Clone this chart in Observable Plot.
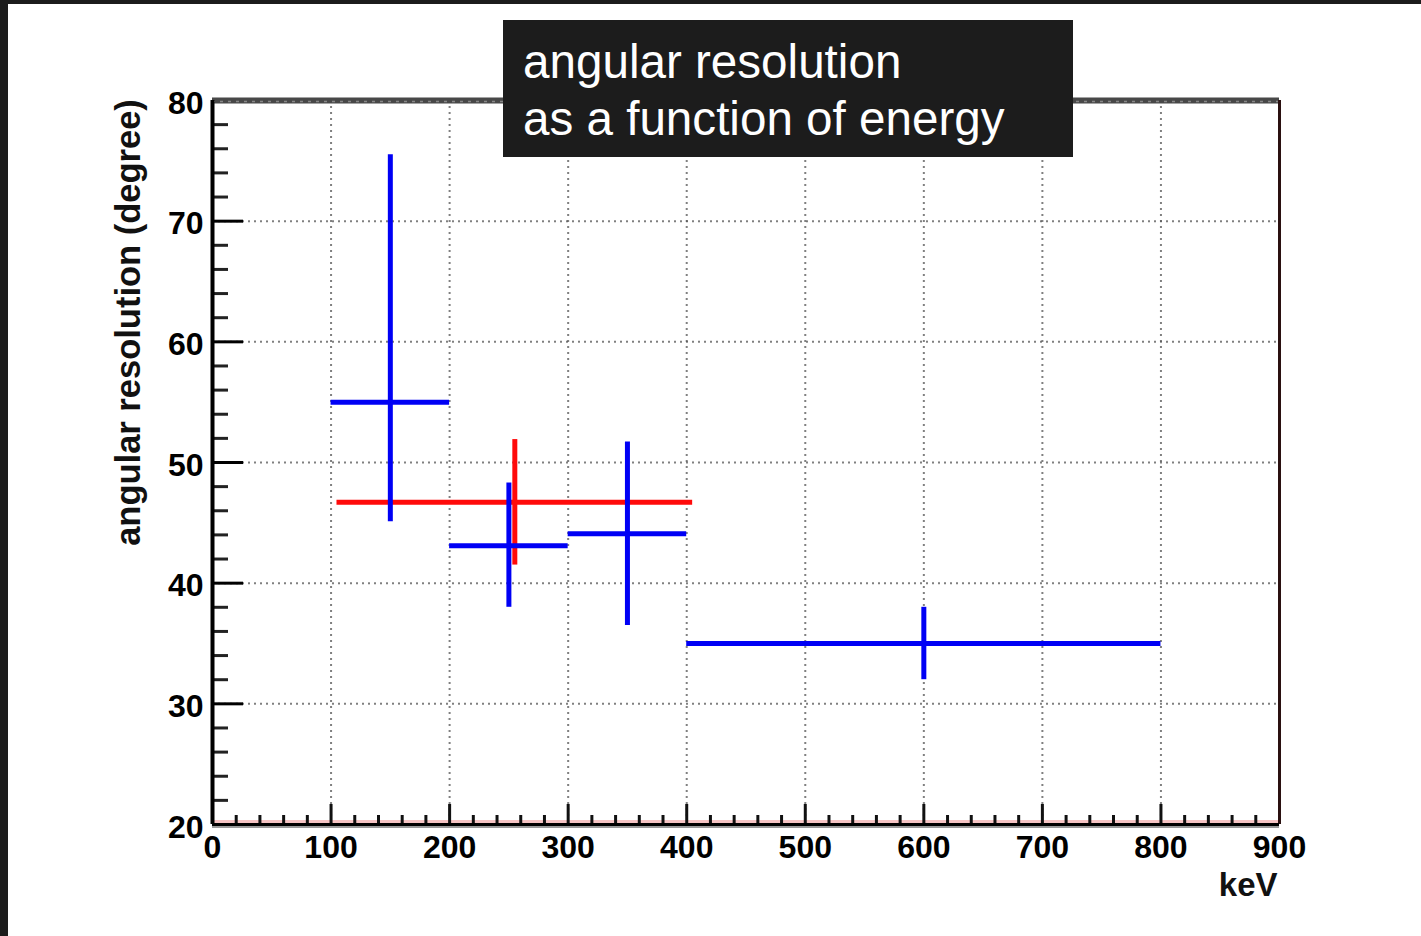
<!DOCTYPE html>
<html>
<head>
<meta charset="utf-8">
<script src="https://cdn.jsdelivr.net/npm/d3@7"></script>
<script src="https://cdn.jsdelivr.net/npm/@observablehq/plot@0.6"></script>
<style>
  html, body { margin: 0; padding: 0; }
  body { background: #1c1c1c; width: 1421px; height: 936px; overflow: hidden; position: relative; font-family: "Liberation Sans", Arial, sans-serif; }
  #chart { position: absolute; left: 8px; top: 4px; background: #fff; }
  #title { position: absolute; left: 503px; top: 20px; width: 570px; height: 137px; box-sizing: border-box;
           background: #1c1c1c; color: #fff; font-size: 47.6px; line-height: 57px; padding: 13px 0 0 20px;
           font-family: "Liberation Sans", Arial, sans-serif; }
</style>
</head>
<body>
<div id="chart"></div>
<div id="title">angular resolution<br>as a function of energy</div>
<script>
// ---- data ----
const blueX    = [150, 250, 350, 600];
const blueXlo  = [100, 200, 300, 400];
const blueXhi  = [200, 300, 400, 800];
const blueY    = [55.0, 43.1, 44.1, 35.0];
const blueYlo  = [45.1, 38.0, 36.5, 32.0];
const blueYhi  = [75.5, 48.3, 51.7, 38.0];

const redX     = [255];
const redXlo   = [105];
const redXhi   = [405];
const redY     = [46.7];
const redYlo   = [41.5];
const redYhi   = [51.9];

const xMajor = [0, 100, 200, 300, 400, 500, 600, 700, 800, 900];
const xMinor = d3.range(0, 900, 20).filter(v => v % 100 !== 0);
const yMajor = [20, 30, 40, 50, 60, 70, 80];
const yMinor = d3.range(20, 80, 2).filter(v => v % 10 !== 0);
const xGrid  = [100, 200, 300, 400, 500, 600, 700, 800];
const yGrid  = [30, 40, 50, 60, 70];

const xLabel = "keV";
const yLabel = "angular resolution (degree)";

// ---- build ----
const W = 1413, H = 932;
const mL = 204, mR = 142, mT = 96, mB = 112;
const frameW = W - mL - mR, frameH = H - mT - mB;

const blue = blueX.map((x, i) => ({x, x1: blueXlo[i], x2: blueXhi[i], y: blueY[i], y1: blueYlo[i], y2: blueYhi[i]}));
const red  = redX.map((x, i) => ({x, x1: redXlo[i], x2: redXhi[i], y: redY[i], y1: redYlo[i], y2: redYhi[i]}));

const fontBold = {fontSize: 32, fontWeight: "bold"};

const chart = Plot.plot({
  width: W, height: H,
  marginLeft: mL, marginRight: mR, marginTop: mT, marginBottom: mB,
  style: {background: "#fff", fontFamily: "'Liberation Sans', Arial, sans-serif", color: "#000"},
  x: {domain: [0, 900]},
  y: {domain: [20, 80]},
  marks: [
    // dotted grid
    Plot.ruleX(xGrid, {x: d => d, stroke: "#555", strokeWidth: 2, strokeDasharray: "2,4", strokeOpacity: 0.75}),
    Plot.ruleY(yGrid, {y: d => d, stroke: "#555", strokeWidth: 2, strokeDasharray: "2,4", strokeOpacity: 0.75}),
    // pink baseline just above x-axis
    Plot.ruleY([20], {stroke: "#f6c4c4", strokeWidth: 3, dy: -3}),
    // inner ticks
    Plot.tickY(yMinor, {y: d => d, insetRight: frameW - 16, stroke: "#222", strokeWidth: 3}),
    Plot.tickY(yMajor, {y: d => d, insetRight: frameW - 31, stroke: "#000", strokeWidth: 3}),
    Plot.tickX(xMinor, {x: d => d, insetTop: frameH - 9, stroke: "#111", strokeWidth: 3}),
    Plot.tickX(xMajor, {x: d => d, insetTop: frameH - 20, stroke: "#111", strokeWidth: 3}),
    // frame
    Plot.ruleY([80], {stroke: "#484848", strokeWidth: 6}),
    Plot.ruleY([80], {stroke: "#888", strokeWidth: 1.5, strokeDasharray: "3,5", dy: 1}),
    Plot.ruleX([900], {stroke: "#2a1010", strokeWidth: 3}),
    Plot.ruleX([0], {stroke: "#000", strokeWidth: 4}),
    Plot.ruleY([20], {stroke: "#000", strokeWidth: 3}),
    Plot.ruleY([20], {stroke: "#999", strokeWidth: 2, dy: 2.5}),
    // red error bars
    Plot.ruleY(red, {x1: "x1", x2: "x2", y: "y", stroke: "#ff0a0a", strokeWidth: 5}),
    Plot.ruleX(red, {x: "x", y1: "y1", y2: "y2", stroke: "#ff0a0a", strokeWidth: 5}),
    // blue error bars
    Plot.ruleY(blue, {x1: "x1", x2: "x2", y: "y", stroke: "#0000f5", strokeWidth: 5}),
    Plot.ruleX(blue, {x: "x", y1: "y1", y2: "y2", stroke: "#0000f5", strokeWidth: 5}),
    // axes labels
    Plot.axisX(xMajor, {tickSize: 0, tickPadding: 11, label: null, ...fontBold}),
    Plot.axisY(yMajor, {tickSize: 0, tickPadding: 9, label: null, dy: 3, ...fontBold}),
    Plot.text([xLabel], {frameAnchor: "bottom-right", text: d => d, textAnchor: "end", lineAnchor: "middle",
      dx: -2, dy: 61, fontSize: 33, fontWeight: "bold", fill: "#111"}),
    Plot.text([yLabel], {frameAnchor: "left", text: d => d, rotate: -90, textAnchor: "middle", lineAnchor: "middle",
      dx: -84, dy: -140, fontSize: 34.5, fontWeight: "bold", fill: "#111"})
  ]
});
document.getElementById("chart").appendChild(chart);
</script>
</body>
</html>
